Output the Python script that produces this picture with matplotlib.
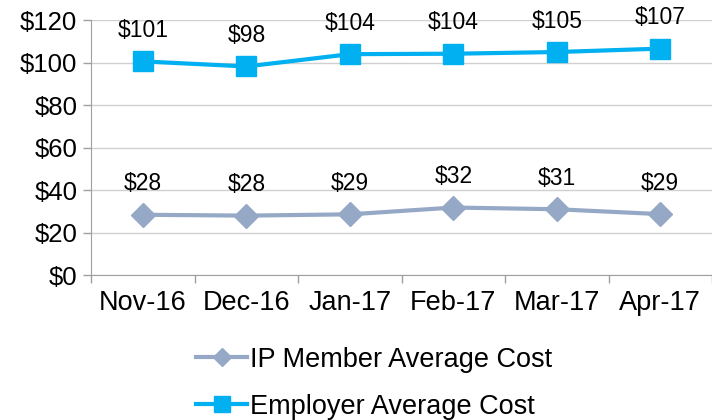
import matplotlib.pyplot as plt

plt.rcParams['font.family'] = ['Liberation Sans', 'DejaVu Sans']

months = ['Nov-16', 'Dec-16', 'Jan-17', 'Feb-17', 'Mar-17', 'Apr-17']
ip_cost = [28.4, 28.0, 28.6, 31.8, 31.0, 28.7]
employer_cost = [100.6, 98.2, 104.0, 104.2, 105.0, 106.6]
yticks = [0, 20, 40, 60, 80, 100, 120]

fig = plt.figure(figsize=(7.12, 4.2), dpi=100)
ax = fig.add_axes([0.128, 0.345, 0.872, 0.607])

x = range(len(months))
ax.plot(x, ip_cost, color='#95A9C6', lw=3, marker='D', markersize=12,
        label='IP Member Average Cost', clip_on=False)
ax.plot(x, employer_cost, color='#00B0F0', lw=3, marker='s', markersize=14.5,
        label='Employer Average Cost', clip_on=False)

# data labels
for i in x:
    ax.annotate('$%d' % round(ip_cost[i]), (i, ip_cost[i]), xytext=(0, 14),
                textcoords='offset points', ha='center', va='bottom', fontsize=16.5)
    ax.annotate('$%d' % round(employer_cost[i]), (i, employer_cost[i]), xytext=(0, 14),
                textcoords='offset points', ha='center', va='bottom', fontsize=16.5)

ax.set_xlim(-0.5, len(months) - 0.5)
ax.set_ylim(0, 120)
ax.set_yticks(yticks)
ax.set_yticklabels(['$%d' % v for v in yticks], fontsize=18.5)
ax.set_xticks(list(x))
ax.set_xticklabels(months, fontsize=19.5)
ax.set_xticks([i - 0.5 for i in range(len(months) + 1)], minor=True)
ax.tick_params(axis='x', which='major', length=0, pad=11)
ax.tick_params(axis='x', which='minor', length=6, color='#A0A0A0', width=1)
ax.tick_params(axis='y', length=6, color='#A0A0A0', width=1, pad=4)

ax.grid(axis='y', color='#D0D0D0', lw=1)
ax.set_axisbelow(True)
for s in ['top', 'right']:
    ax.spines[s].set_visible(False)
for s in ['left', 'bottom']:
    ax.spines[s].set_color('#A0A0A0')

leg = ax.legend(loc='upper left', bbox_to_anchor=(0.26, 0.2), bbox_transform=fig.transFigure,
                frameon=False, fontsize=19.5, handlelength=1.9, handletextpad=0.1,
                labelspacing=0.78, borderaxespad=0, markerscale=0.8)

fig.savefig('out.png', dpi=100)
